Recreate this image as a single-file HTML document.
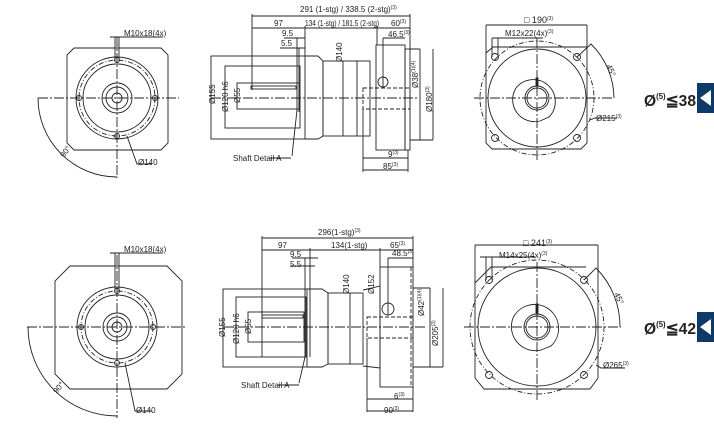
<!DOCTYPE html>
<html><head><meta charset="utf-8"><style>
html,body{margin:0;padding:0;background:#fff;}
svg{display:block;}
text{font-family:"Liberation Sans",sans-serif;font-size:8px;fill:#222;}
.sup{font-size:5px;}
</style></head><body>
<svg width="714" height="433" viewBox="0 0 714 433" xmlns="http://www.w3.org/2000/svg">
<g fill="none" stroke="#222" stroke-width="0.9">
<path d="M74,48 L161,48 L168,55 L168,143 L161,150 L74,150 L67,143 L67,55 Z"/>
<circle cx="117" cy="98" r="41"/>
<circle cx="117" cy="98" r="38" stroke-dasharray="5,2,1,2"/>
<circle cx="117" cy="98" r="34"/>
<circle cx="117" cy="98" r="15"/>
<circle cx="117" cy="98" r="11"/>
<circle cx="117" cy="98" r="5"/>
<circle cx="117" cy="60" r="2.5"/><circle cx="117" cy="136" r="2.5"/>
<circle cx="79" cy="98" r="2.5"/><circle cx="155" cy="98" r="2.5"/>
<path d="M38,98 H179 M117,37 V178" stroke-dasharray="10,2,2,2"/>
<path d="M38,98 A79,79 0 0 0 117,177"/>
<path d="M115,37 V58 M119,37 V58 M110,37 H163"/>
<path d="M127,136 L137,164 H152"/>
<path d="M70,266 L167,266 L182,281 L182,374 L167,389 L70,389 L55,374 L55,281 Z"/>
<circle cx="117" cy="327" r="40"/>
<circle cx="117" cy="327" r="36" stroke-dasharray="5,2,1,2"/>
<circle cx="117" cy="327" r="32"/>
<circle cx="117" cy="327" r="14"/>
<circle cx="117" cy="327" r="10"/>
<circle cx="117" cy="327" r="5"/>
<circle cx="117" cy="291" r="2.5"/><circle cx="117" cy="363" r="2.5"/>
<circle cx="81" cy="327" r="2.5"/><circle cx="153" cy="327" r="2.5"/>
<path d="M27,327 H187 M117,255 V418" stroke-dasharray="10,2,2,2"/>
<path d="M28,327 A89,89 0 0 0 117,416"/>
<path d="M115,253 V289 M119,253 V289 M110,253 H163"/>
<path d="M125,363 L135,411 H152"/>
<rect x="211" y="56" width="94" height="83"/>
<rect x="225" y="66" width="75" height="62"/>
<rect x="237" y="83" width="62" height="26"/>
<rect x="251" y="86" width="45" height="3"/>
<path d="M297,38 V112 M299,48 V112"/>
<path d="M305,56 L318,56 L323,61 L323,136 L318,139 L305,139"/>
<rect x="323" y="61" width="47" height="75"/>
<path d="M343,61 V136 M357,61 V136"/>
<rect x="376" y="45" width="29" height="105"/>
<rect x="405" y="49" width="5" height="101"/>
<rect x="363" y="88" width="47" height="21" stroke-dasharray="4,2"/>
<circle cx="383" cy="82" r="5"/><path d="M383,38 V88"/>
<path d="M211,98 H418" stroke-dasharray="10,2,2,2"/>
<path d="M252,16 H410 M252,28 H410 M252,14 V90 M305,26 V56 M377,26 V45 M410,14 V49"/>
<path d="M284,38 H305 M280,48 H305 M383,38 H405"/>
<path d="M410,49 H420 M410,140 H433 M420,49 V140 M433,49 V140"/>
<path d="M363,158 H408 M363,170 H408 M363,109 V172 M408,150 V172"/>
<path d="M292,156 L297,110 M270,158 H291"/>
<rect x="223" y="289" width="84" height="78"/>
<rect x="236" y="297" width="70" height="60"/>
<rect x="248" y="312" width="56" height="30"/>
<rect x="262" y="315" width="41" height="3"/>
<path d="M305,258 V357 M310,266 V357"/>
<path d="M307,289 L322,289 L328,293 L328,364 L322,367 L307,367"/>
<rect x="328" y="293" width="35" height="71"/>
<path d="M350,293 V364"/>
<path d="M363,290 L372,288 L380,286 L380,368 L363,366"/>
<rect x="380" y="267" width="33" height="120"/>
<rect x="367" y="317" width="46" height="21" stroke-dasharray="4,2"/>
<path d="M411,267 V387" stroke-dasharray="4,2"/>
<circle cx="388" cy="309" r="6"/><path d="M388,258 V315"/>
<path d="M223,327 H425" stroke-dasharray="10,2,2,2"/>
<path d="M262,238 H413 M262,250 H413 M262,236 V357 M310,248 V266 M380,248 V267 M413,236 V267"/>
<path d="M292,258 H318 M290,266 H315 M388,258 H413"/>
<path d="M413,288 H430 M413,367 H443 M430,288 V367 M443,288 V367"/>
<path d="M367,399 H413 M367,411 H413 M367,338 V412 M413,387 V412"/>
<path d="M299,383 L305,357 M278,385 H299"/>
<path d="M486,25 V143 L492,149 H581 L587,143 V25 M486,25 H587"/>
<path d="M486,53 L493,47 H587"/>
<circle cx="537" cy="98" r="57" stroke-dasharray="5,2,1,2"/>
<circle cx="537" cy="98" r="49"/>
<path d="M516,88 A22,22 0 1 1 549,117 L540,121 A22,22 0 0 1 516,88"/>
<circle cx="537" cy="98" r="12"/>
<circle cx="537" cy="98" r="10"/>
<rect x="536" y="78" width="2" height="8" fill="#222"/>
<circle cx="495" cy="57" r="3.5"/><circle cx="577" cy="57" r="3.5"/>
<circle cx="495" cy="138" r="3.5"/><circle cx="577" cy="138" r="3.5"/>
<path d="M474,98 H614 M537,38 V160" stroke-dasharray="10,2,2,2"/>
<path d="M577,57 L591,44 A77,77 0 0 1 614,98"/>
<path d="M492,38 H543 M492,38 V57 M498,38 V57"/>
<path d="M590,120 L595,118 H617"/>
<path d="M475,245 V378 L484,389 H590 L598,378 V245 M475,245 H598"/>
<path d="M475,283 L491,267 H586"/>
<circle cx="537" cy="327" r="67" stroke-dasharray="5,2,1,2"/>
<circle cx="537" cy="327" r="59"/>
<path d="M513,318 A24,24 0 1 1 551,346 L541,350 A24,24 0 0 1 513,318"/>
<circle cx="537" cy="327" r="13"/>
<circle cx="537" cy="327" r="11"/>
<rect x="536" y="304" width="2" height="9" fill="#222"/>
<circle cx="489" cy="280" r="3.5"/><circle cx="584" cy="280" r="3.5"/>
<circle cx="489" cy="375" r="3.5"/><circle cx="584" cy="375" r="3.5"/>
<path d="M464,327 H621 M537,262 V400" stroke-dasharray="10,2,2,2"/>
<path d="M584,280 L596,268 A83,83 0 0 1 620,327"/>
<path d="M480,257 H535 M486,257 V280 M492,257 V280"/>
<path d="M596,365 L601,368 H625"/>
</g>
<text x="124" y="36">M10x18(4x)</text>
<text x="138" y="165">Ø140</text>
<text x="60" y="156" transform="rotate(-55 64 153)">90°</text>
<text x="124" y="252">M10x18(4x)</text>
<text x="136" y="413">Ø140</text>
<text x="53" y="392" transform="rotate(-50 57 389)">90°</text>

<text x="300" y="12">291 (1-stg) / 338.5 (2-stg)<tspan class="sup" dy="-3">(3)</tspan></text>
<text x="274" y="26">97</text>
<text x="305" y="26" textLength="74" lengthAdjust="spacingAndGlyphs">134 (1-stg) / 181.5 (2-stg)</text>
<text x="391" y="26">60<tspan class="sup" dy="-3">(3)</tspan></text>
<text x="282" y="36">9.5</text>
<text x="281" y="46">5.5</text>
<text x="388" y="37">46.5<tspan class="sup" dy="-3">(3)</tspan></text>
<text transform="translate(215,104) rotate(-90)">Ø155</text>
<text transform="translate(228,112) rotate(-90)">Ø120 h6</text>
<text transform="translate(240,103) rotate(-90)">Ø55</text>
<text transform="translate(342,62) rotate(-90)">Ø140</text>
<text transform="translate(418,88) rotate(-90)">Ø38<tspan class="sup" dy="-3">(1)(4)</tspan></text>
<text transform="translate(432,112) rotate(-90)">Ø180<tspan class="sup" dy="-3">(3)</tspan></text>
<text x="233" y="161">Shaft Detail  A</text>
<text x="388" y="157">9<tspan class="sup" dy="-3">(3)</tspan></text>
<text x="383" y="169">85<tspan class="sup" dy="-3">(3)</tspan></text>

<text x="318" y="235">296(1-stg)<tspan class="sup" dy="-3">(3)</tspan></text>
<text x="278" y="248">97</text>
<text x="331" y="248">134(1-stg)</text>
<text x="390" y="248">65<tspan class="sup" dy="-3">(3)</tspan></text>
<text x="290" y="257">9.5</text>
<text x="290" y="267">5.5</text>
<text x="392" y="256">48.5<tspan class="sup" dy="-3">(3)</tspan></text>
<text transform="translate(225,337) rotate(-90)">Ø155</text>
<text transform="translate(239,344) rotate(-90)">Ø120 h6</text>
<text transform="translate(251,334) rotate(-90)">Ø55</text>
<text transform="translate(349,294) rotate(-90)">Ø140</text>
<text transform="translate(374,294) rotate(-90)">Ø152</text>
<text transform="translate(424,316) rotate(-90)">Ø42<tspan class="sup" dy="-3">(1)(4)</tspan></text>
<text transform="translate(438,346) rotate(-90)">Ø205<tspan class="sup" dy="-3">(3)</tspan></text>
<text x="241" y="388">Shaft Detail  A</text>
<text x="394" y="399">6<tspan class="sup" dy="-3">(3)</tspan></text>
<text x="384" y="413">90<tspan class="sup" dy="-3">(3)</tspan></text>

<text x="524" y="23" style="font-size:9px">□ 190<tspan class="sup" dy="-3">(3)</tspan></text>
<text x="505" y="36">M12x22(4x)<tspan class="sup" dy="-3">(3)</tspan></text>
<text transform="translate(606,66) rotate(65)">45°</text>
<text x="596" y="121">Ø215<tspan class="sup" dy="-3">(3)</tspan></text>
<text x="523" y="246" style="font-size:9px">□ 241<tspan class="sup" dy="-3">(3)</tspan></text>
<text x="499" y="258">M14x25(4x)<tspan class="sup" dy="-3">(3)</tspan></text>
<text transform="translate(614,294) rotate(65)">45°</text>
<text x="603" y="368">Ø265<tspan class="sup" dy="-3">(3)</tspan></text>

<text x="644" y="106" textLength="52" lengthAdjust="spacingAndGlyphs" style="font-size:16px;font-weight:bold;fill:#222">Ø<tspan style="font-size:8px" dy="-7">(5)</tspan><tspan dy="7">≦38</tspan></text>
<rect x="697" y="83" width="17" height="30" fill="#0e3a68"/>
<path d="M700,98 L711,90 V106 Z" fill="#fff"/>
<text x="644" y="334" textLength="52" lengthAdjust="spacingAndGlyphs" style="font-size:16px;font-weight:bold;fill:#222">Ø<tspan style="font-size:8px" dy="-7">(5)</tspan><tspan dy="7">≦42</tspan></text>
<rect x="697" y="312" width="17" height="30" fill="#0e3a68"/>
<path d="M700,327 L711,319 V335 Z" fill="#fff"/>
</svg>
</body></html>
